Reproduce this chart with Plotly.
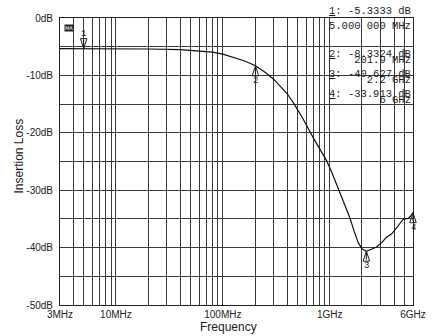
import numpy as np
import plotly.graph_objects as go

# ---- data ----
freq_mhz = [3, 5, 10, 20, 40, 60, 80, 100, 130, 160, 201.9, 250, 300, 341, 400, 454,
            560, 697, 800, 930, 1050, 1155, 1300, 1540, 1700, 1841, 2000, 2200, 2450,
            2733, 3000, 3390, 3800, 4205, 4600, 4845, 5100, 5400, 5700, 6000]
loss_db = [-5.33, -5.333, -5.35, -5.4, -5.5, -5.7, -5.95, -6.3, -6.9, -7.5, -8.33, -9.5,
           -10.7, -11.8, -13.2, -14.7, -17.5, -20.8, -22.6, -24.8, -27.0, -29.0, -31.4,
           -34.8, -37.3, -39.1, -40.2, -40.63, -40.3, -39.9, -39.3, -38.2, -37.6, -36.5,
           -35.6, -35.1, -35.0, -34.9, -34.5, -33.91]

marker_ids = ["1", "2", "3", "4"]
marker_freq_mhz = [5.0, 201.9, 2200, 6000]
marker_db = [-5.3333, -8.3324, -40.627, -33.913]
readout_level = ["-5.3333 dB", "-8.3324 dB", "-40.627 dB", "-33.913 dB"]
readout_freq = ["5.000 000 MHz", "201.9 MHz", "2.2 GHz", "6 GHz"]

xtick_vals = [3, 10, 100, 1000, 6000]
xtick_text = ["3MHz", "10MHz", "100MHz", "1GHz", "6GHz"]
ytick_vals = [0, -10, -20, -30, -40, -50]
ytick_text = ["0dB", "-10dB", "-20dB", "-30dB", "-40dB", "-50dB"]

x_title = "Frequency"
y_title = "Insertion Loss"

# ---- figure ----
grid_color = "#3a3a3a"
ink = "#1e1e1e"
mono = "Liberation Mono"
xgrid = [m * 10 ** e for e in range(0, 4) for m in range(1, 10) if 3 <= m * 10 ** e <= 6000]

fig = go.Figure()
fig.add_trace(go.Scatter(x=freq_mhz, y=loss_db, mode="lines",
                         line=dict(color="#111111", width=1.2), showlegend=False,
                         hoverinfo="skip"))

# marker triangles (tip at the marker point)
angles = [180 if mid == "1" else 0 for mid in marker_ids]
fig.add_trace(go.Scatter(x=marker_freq_mhz, y=marker_db, mode="markers",
                         marker=dict(symbol="arrow-open", size=10.5, angle=angles,
                                     color=ink, line=dict(width=1, color=ink)),
                         cliponaxis=False, showlegend=False, hoverinfo="skip"))

annotations = []
for mid, f, d in zip(marker_ids, marker_freq_mhz, marker_db):
    ay = -15 if mid == "1" else 15
    annotations.append(dict(x=np.log10(f), y=d, xref="x", yref="y", text=mid,
                            showarrow=True, arrowhead=0, arrowwidth=1, arrowcolor=ink,
                            ax=0, ay=ay, standoff=0,
                            font=dict(family=mono, size=9, color=ink)))

# readout texts (top-right)
span = '<span style="font-size:10.5px">{}</span>'
# marker 1: two separate rows
annotations.append(dict(xref="paper", yref="paper", x=1, y=1, xanchor="right",
                        yanchor="middle", yshift=15 - 8,
                        text=f"<u>{marker_ids[0]}</u>: {readout_level[0]}",
                        showarrow=False, font=dict(family=mono, size=10.5, color=ink)))
annotations.append(dict(xref="paper", yref="paper", x=1, y=1, xanchor="right",
                        yanchor="middle", yshift=15 - 23, text=readout_freq[0],
                        showarrow=False, font=dict(family=mono, size=10.5, color=ink)))
# markers 2-4: tightly stacked two-line blocks
ro_y_center = [53.6, 73.7, 94.2]
for i, yc in zip(range(1, 4), ro_y_center):
    txt = (span.format(f"<u>{marker_ids[i]}</u>: {readout_level[i]}") + "<br>"
           + span.format(readout_freq[i]))
    annotations.append(dict(xref="paper", yref="paper", x=1, y=1, xanchor="right",
                            yanchor="middle", yshift=15 - yc, align="right",
                            text=txt, showarrow=False,
                            font=dict(family=mono, size=4.6, color=ink)))

# small marker-mode box at top-left
annotations.append(dict(xref="paper", yref="paper", x=0, y=1, xanchor="left",
                        yanchor="top", xshift=4, yshift=-6, text="MA", showarrow=False,
                        bgcolor="#222", borderpad=0,
                        font=dict(family="DejaVu Sans", size=5, color="white")))

# axis titles
annotations.append(dict(xref="paper", yref="paper", x=0.5, y=0, xshift=-8, yshift=-22,
                        text=x_title, showarrow=False, yanchor="middle",
                        font=dict(family="Liberation Sans", size=12, color="#222")))
annotations.append(dict(xref="paper", yref="paper", x=0, y=0.5, xshift=-42, yshift=5,
                        text=y_title, showarrow=False, textangle=-90, xanchor="center",
                        font=dict(family="Liberation Sans", size=12, color="#222")))

fig.update_layout(
    width=439, height=336,
    margin=dict(l=60, r=26, t=15, b=31),
    paper_bgcolor="white", plot_bgcolor="white",
    annotations=annotations,
    font=dict(family="Liberation Sans", size=10, color="#222"),
)
fig.update_xaxes(type="log", range=[np.log10(3), np.log10(6000)],
                 tickvals=xtick_vals, ticktext=xtick_text, showgrid=True,
                 gridcolor=grid_color, gridwidth=1,
                 minor=dict(tickvals=xgrid, showgrid=True, gridcolor=grid_color,
                            gridwidth=1, ticks=""),
                 showline=True, mirror=True, linecolor="#222", linewidth=1,
                 ticks="", zeroline=False, tickfont=dict(size=10))
fig.update_yaxes(range=[-50, 0], tickvals=ytick_vals, ticktext=ytick_text,
                 showgrid=True, gridcolor=grid_color, gridwidth=1,
                 minor=dict(dtick=5, showgrid=True, gridcolor=grid_color, gridwidth=1,
                            ticks=""),
                 showline=True, mirror=True, linecolor="#222", linewidth=1,
                 ticks="", zeroline=False, ticklabelstandoff=4, tickfont=dict(size=10))

fig.write_html("out.html")
